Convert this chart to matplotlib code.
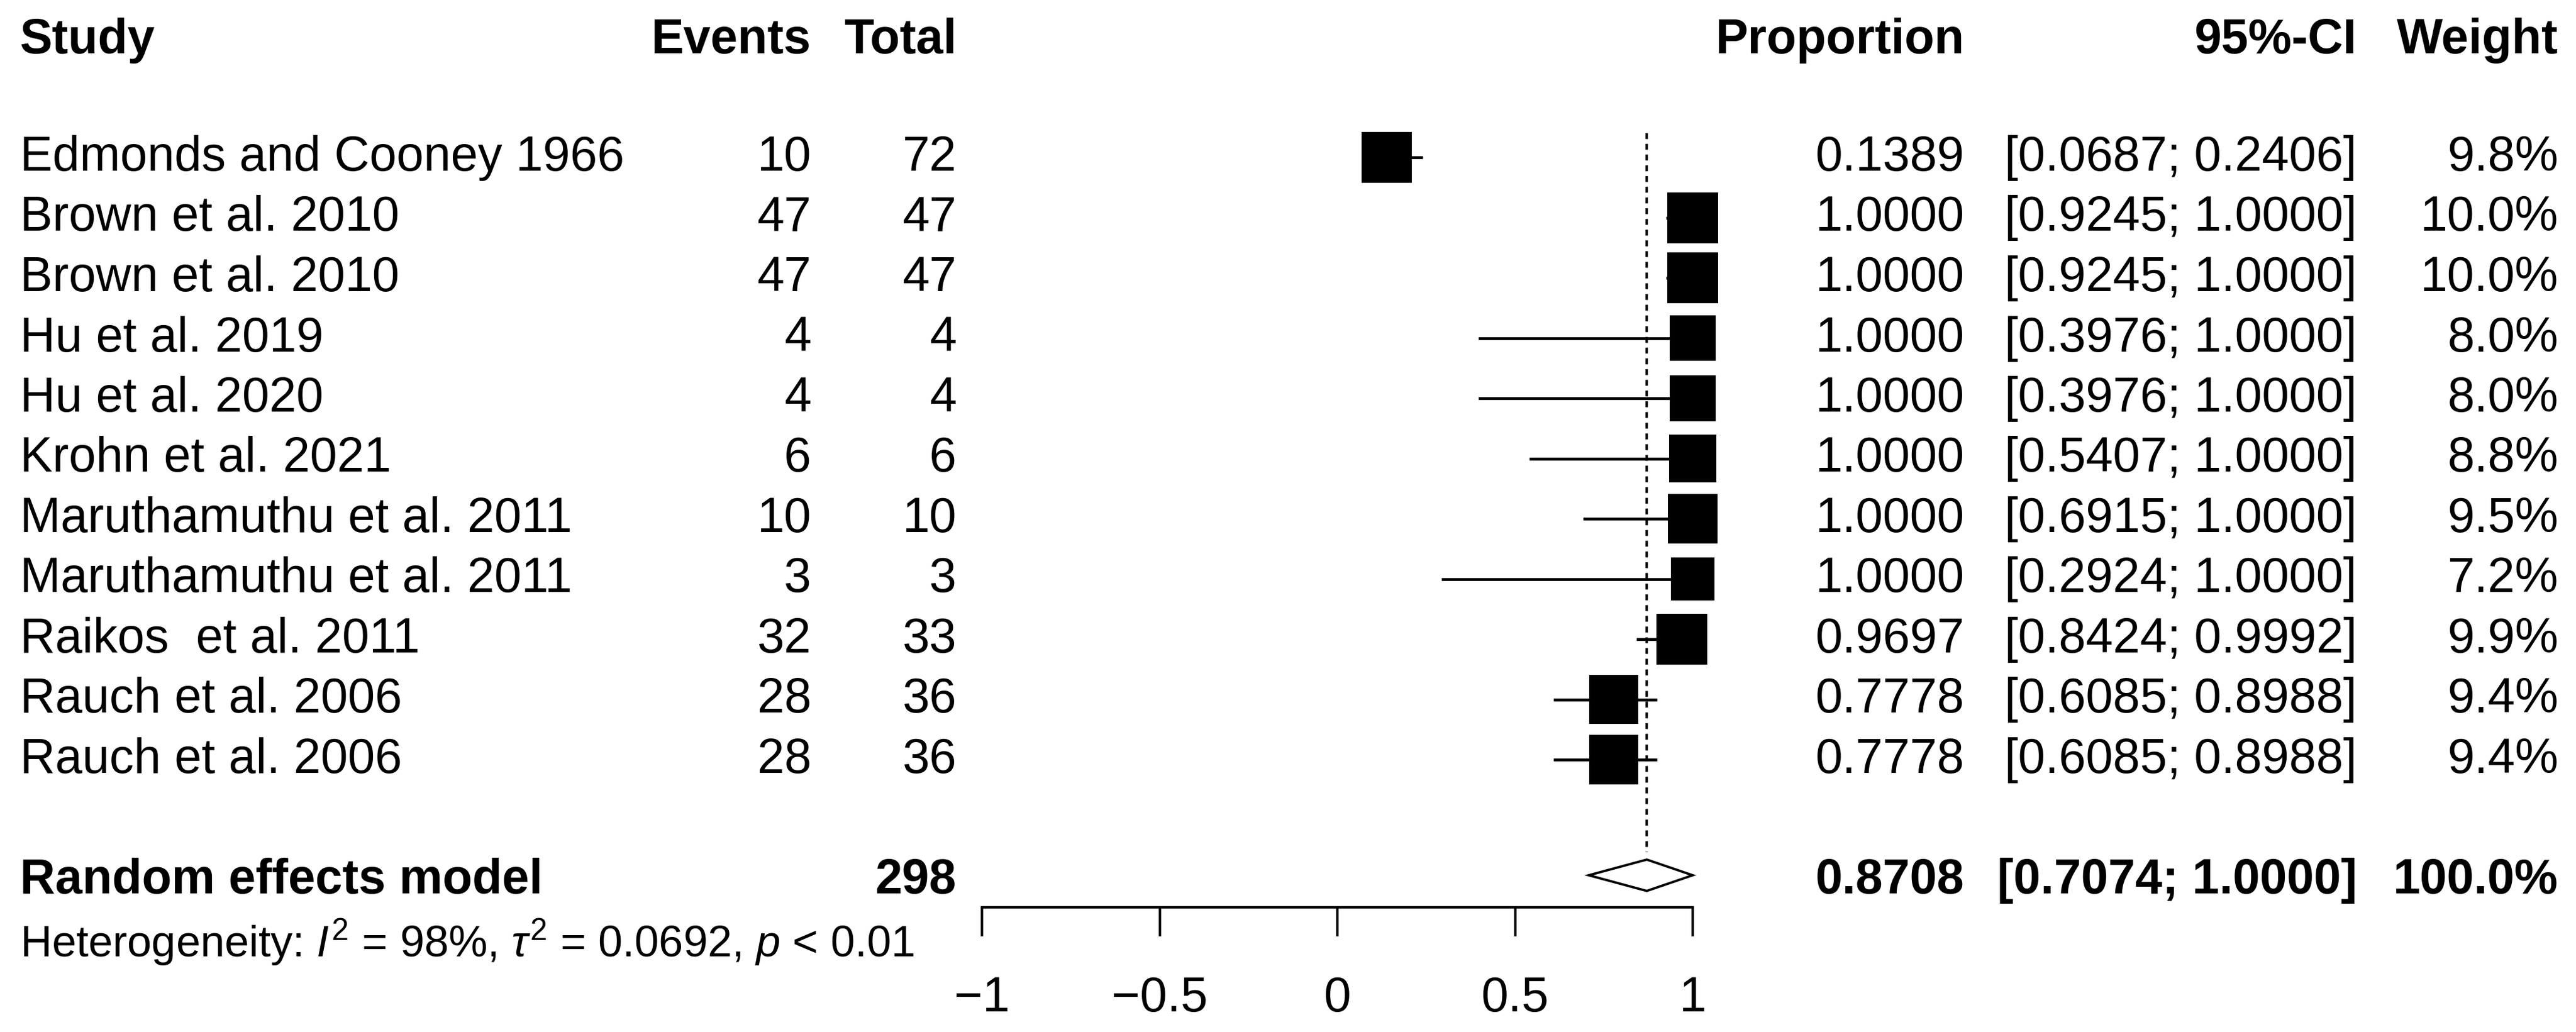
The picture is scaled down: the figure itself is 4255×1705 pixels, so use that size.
import matplotlib
matplotlib.use("Agg")
import numpy as np
import matplotlib.pyplot as plt
from matplotlib.patches import Rectangle, Polygon

# data
studies = ["Edmonds and Cooney 1966", "Brown et al. 2010", "Brown et al. 2010",
           "Hu et al. 2019", "Hu et al. 2020", "Krohn et al. 2021",
           "Maruthamuthu et al. 2011", "Maruthamuthu et al. 2011",
           "Raikos  et al. 2011", "Rauch et al. 2006", "Rauch et al. 2006"]
events = [10, 47, 47, 4, 4, 6, 10, 3, 32, 28, 28]
totals = [72, 47, 47, 4, 4, 6, 10, 3, 33, 36, 36]
prop = [0.1389, 1.0, 1.0, 1.0, 1.0, 1.0, 1.0, 1.0, 0.9697, 0.7778, 0.7778]
lower = [0.0687, 0.9245, 0.9245, 0.3976, 0.3976, 0.5407, 0.6915, 0.2924, 0.8424, 0.6085, 0.6085]
upper = [0.2406, 1.0, 1.0, 1.0, 1.0, 1.0, 1.0, 1.0, 0.9992, 0.8988, 0.8988]
weights = [9.8, 10.0, 10.0, 8.0, 8.0, 8.8, 9.5, 7.2, 9.9, 9.4, 9.4]

pooled = 0.8708
pooled_lo = 0.7074
pooled_hi = 1.0000
pooled_total = 298
pooled_weight = 100.0
i2 = 98
tau2 = 0.0692

xticks = [-1, -0.5, 0, 0.5, 1]

plt.rcParams['font.family'] = ['Liberation Sans', 'DejaVu Sans']
plt.rcParams['mathtext.fontset'] = 'custom'
plt.rcParams['mathtext.rm'] = 'Liberation Sans'
plt.rcParams['mathtext.it'] = 'Liberation Sans:italic'

W, H = 4255, 1706
fig = plt.figure(figsize=(W / 100, H / 100), dpi=100)
ax = fig.add_axes([0, 0, 1, 1])
ax.axis('off')

# pixel layout: x=-1 at 1622px, x=1 at 2796px; row 0 at 261px, ~99.5px per row
ppu = (2796 - 1622) / 2.0
rowpx = 99.5
x0 = -1 - 1622 / ppu
x1 = 1 + (W - 2796) / ppu
ax.set_xlim(x0, x1)
ax.set_ylim((H - 261) / rowpx, -261 / rowpx)

fs = 58
fs_het = 52
tr = ax.get_yaxis_transform()  # x in axes fraction, y in data


def colx(px):
    return px / W


rows = np.arange(len(studies))
re_row = len(studies) + 1.0
het_row = re_row + 1.02
head_row = -1.95

# header
ax.text(colx(33), head_row, "Study", transform=tr, ha='left', va='center', fontsize=fs, fontweight='bold')
ax.text(colx(1340), head_row, "Events", transform=tr, ha='right', va='center', fontsize=fs, fontweight='bold')
ax.text(colx(1580), head_row, "Total", transform=tr, ha='right', va='center', fontsize=fs, fontweight='bold')
ax.text(colx(3245), head_row, "Proportion", transform=tr, ha='right', va='center', fontsize=fs, fontweight='bold')
ax.text(colx(3893), head_row, "95%-CI", transform=tr, ha='right', va='center', fontsize=fs, fontweight='bold')
ax.text(colx(4226), head_row, "Weight", transform=tr, ha='right', va='center', fontsize=fs, fontweight='bold')

# study rows
for r in rows:
    ax.text(colx(33), r, studies[r], transform=tr, ha='left', va='center', fontsize=fs)
    ax.text(colx(1340), r, str(events[r]), transform=tr, ha='right', va='center', fontsize=fs)
    ax.text(colx(1580), r, str(totals[r]), transform=tr, ha='right', va='center', fontsize=fs)
    ax.text(colx(3245), r, f"{prop[r]:.4f}", transform=tr, ha='right', va='center', fontsize=fs)
    ax.text(colx(3893), r, f"[{lower[r]:.4f}; {upper[r]:.4f}]", transform=tr, ha='right', va='center', fontsize=fs)
    ax.text(colx(4226), r, f"{weights[r]:.1f}%", transform=tr, ha='right', va='center', fontsize=fs)

    # CI line and weighted square
    ax.plot([lower[r], upper[r]], [r, r], color='black', lw=3.4, solid_capstyle='butt', zorder=2)
    side = 84 * np.sqrt(weights[r] / 10.0)
    sw = side / ppu
    sh = side / rowpx
    ax.add_patch(Rectangle((prop[r] - sw / 2, r - sh / 2), sw, sh, facecolor='black', edgecolor='none', zorder=3))

# random effects row
ax.text(colx(33), re_row, "Random effects model", transform=tr, ha='left', va='center', fontsize=fs, fontweight='bold')
ax.text(colx(1580), re_row, str(pooled_total), transform=tr, ha='right', va='center', fontsize=fs, fontweight='bold')
ax.text(colx(3245), re_row, f"{pooled:.4f}", transform=tr, ha='right', va='center', fontsize=fs, fontweight='bold')
ax.text(colx(3893), re_row, f"[{pooled_lo:.4f}; {pooled_hi:.4f}]", transform=tr, ha='right', va='center', fontsize=fs, fontweight='bold')
ax.text(colx(4226), re_row, f"{pooled_weight:.1f}%", transform=tr, ha='right', va='center', fontsize=fs, fontweight='bold')

dia_row = re_row - 0.08
dh = 0.26
ax.add_patch(Polygon([[pooled_lo, dia_row], [pooled, dia_row - dh], [pooled_hi, dia_row], [pooled, dia_row + dh]],
                     closed=True, facecolor='white', edgecolor='black', lw=2.8, zorder=3))

# reference line at pooled estimate
ax.plot([pooled, pooled], [-0.4, dia_row - dh - 0.12], color='black', lw=2.9, linestyle=(0, (2.4, 2.0)), zorder=1)

# heterogeneity
ax.text(colx(33), het_row, r"Heterogeneity: $I^2$ = %d%%, $\tau^2$ = %.4f, $p$ < 0.01" % (i2, tau2),
        transform=tr, ha='left', va='center', fontsize=fs_het)

# x axis
axis_row = (1500 - 261) / rowpx
tick_end = (1548 - 261) / rowpx
lab_row = (1650 - 261) / rowpx
ax.plot([xticks[0], xticks[-1]], [axis_row, axis_row], color='black', lw=3.0, solid_capstyle='projecting')
for t in xticks:
    ax.plot([t, t], [axis_row, tick_end], color='black', lw=3.0, solid_capstyle='butt')
    lab = ("%g" % t).replace("-", "\u2212")
    ax.text(t, lab_row, lab, ha='center', va='center', fontsize=fs)

fig.savefig("out.png", dpi=100, facecolor='white')
